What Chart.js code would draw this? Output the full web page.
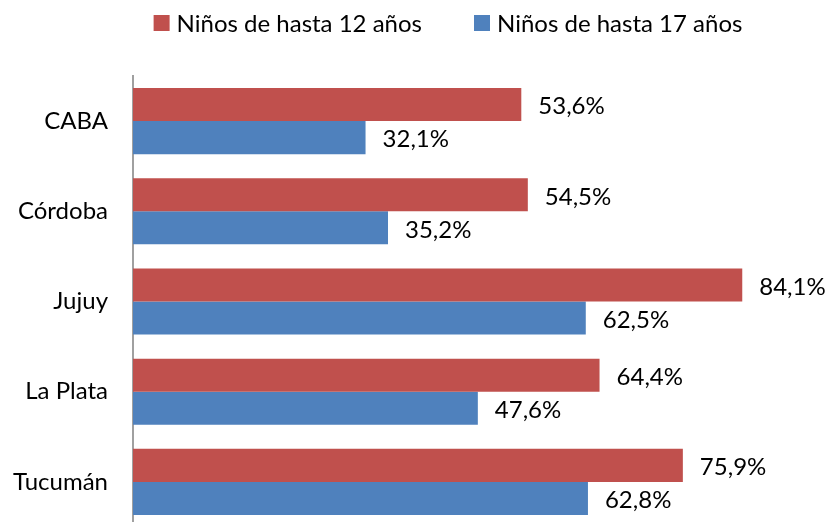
<!DOCTYPE html>
<html>
<head>
<meta charset="utf-8">
<script src="https://cdn.jsdelivr.net/npm/chart.js@4.4.1/dist/chart.umd.min.js"></script>
<style>
  html, body { margin: 0; padding: 0; background: #fff; overflow: hidden; }
  canvas { display: block; }
</style>
</head>
<body>
<canvas id="c" width="825" height="527"></canvas>
<script>
const categories = ['CABA', 'Córdoba', 'Jujuy', 'La Plata', 'Tucumán'];
const seriesNames = ['Niños de hasta 12 años', 'Niños de hasta 17 años'];
const hasta12 = [53.6, 54.5, 84.1, 64.4, 75.9];
const hasta17 = [32.1, 35.2, 62.5, 47.6, 62.8];

const RED = '#C0504D';
const BLUE = '#4F81BD';
const FONT = 'Lato, "Open Sans", sans-serif';

const fmt = v => v.toFixed(1).replace('.', ',') + '%';

const valueLabels = {
  id: 'valueLabels',
  afterDatasetsDraw(chart) {
    const ctx = chart.ctx;
    ctx.save();
    ctx.font = '24px ' + FONT;
    ctx.fillStyle = '#000';
    ctx.textAlign = 'left';
    ctx.textBaseline = 'middle';
    chart.data.datasets.forEach((ds, di) => {
      const meta = chart.getDatasetMeta(di);
      meta.data.forEach((bar, i) => {
        ctx.fillText(fmt(ds.data[i]), bar.x + 17, bar.y + 2);
      });
    });
    ctx.restore();
  }
};

const topLegend = {
  id: 'topLegend',
  afterDraw(chart) {
    const ctx = chart.ctx;
    ctx.save();
    ctx.font = '24px ' + FONT;
    ctx.textBaseline = 'middle';
    ctx.textAlign = 'left';
    const box = 16, gap = 7, itemGap = 52, cy = 23;
    const items = chart.data.datasets.map(ds => ({
      label: ds.label, color: ds.backgroundColor,
      w: box + gap + ctx.measureText(ds.label).width
    }));
    const total = items.reduce((s, it) => s + it.w, 0) + itemGap * (items.length - 1);
    let x = 448 - total / 2;
    items.forEach(it => {
      ctx.fillStyle = it.color;
      ctx.fillRect(x, cy - box / 2, box, box);
      ctx.fillStyle = '#000';
      ctx.fillText(it.label, x + box + gap, cy + 1);
      x += it.w + itemGap;
    });
    ctx.restore();
  }
};

new Chart(document.getElementById('c'), {
  type: 'bar',
  data: {
    labels: categories,
    datasets: [
      { label: seriesNames[0], data: hasta12, backgroundColor: RED, borderWidth: 0,
        categoryPercentage: 0.733, barPercentage: 1.0 },
      { label: seriesNames[1], data: hasta17, backgroundColor: BLUE, borderWidth: 0,
        categoryPercentage: 0.733, barPercentage: 1.0 }
    ]
  },
  options: {
    indexAxis: 'y',
    responsive: false,
    animation: false,
    layout: { padding: { top: 76, right: 40, bottom: 0, left: 0 } },
    plugins: {
      legend: { display: false },
      tooltip: { enabled: false }
    },
    scales: {
      x: {
        display: false,
        min: 0, max: 90,
        grid: { display: false }
      },
      y: {
        offset: true,
        grid: { display: false, drawTicks: false },
        border: { display: true, color: '#A0A0A0', width: 2 },
        ticks: {
          color: '#000',
          padding: 25,
          font: { family: FONT, size: 24 }
        },
        afterFit(scale) {
          scale.width = 133;
          scale.paddingTop = 0;
          scale.paddingBottom = 0;
        }
      }
    }
  },
  plugins: [valueLabels, topLegend]
});
</script>
</body>
</html>
